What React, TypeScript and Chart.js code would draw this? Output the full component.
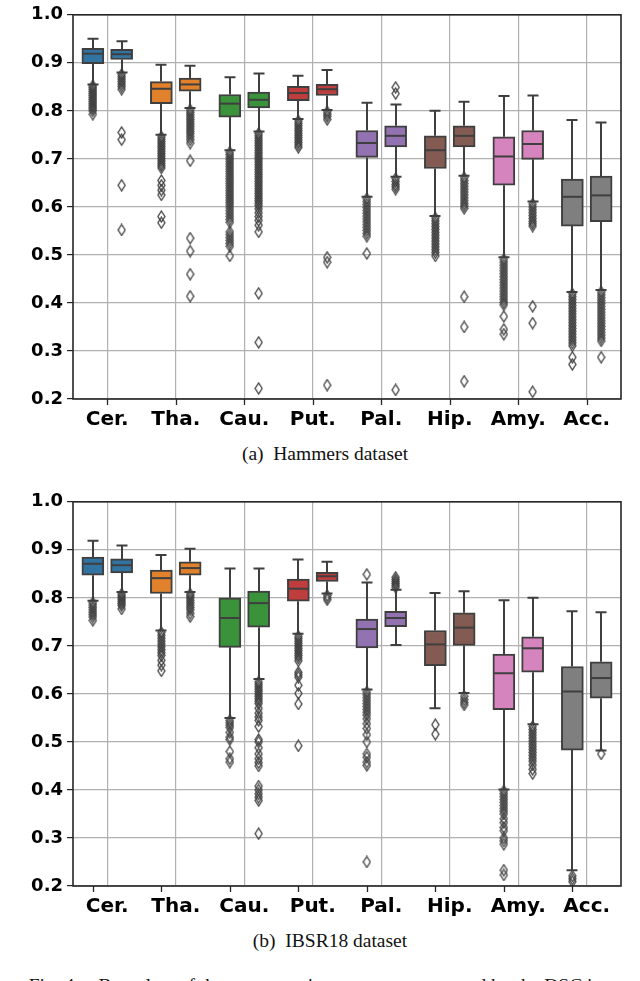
import React, { useEffect, useRef } from 'react';
import { Chart, registerables } from 'chart.js';

Chart.register(...registerables);

// ---------- data ----------
const categories = ['Cer.', 'Tha.', 'Cau.', 'Put.', 'Pal.', 'Hip.', 'Amy.', 'Acc.'];
const yTickValues = [0.2, 0.3, 0.4, 0.5, 0.6, 0.7, 0.8, 0.9, 1.0];

// Hammers dataset, left box of each pair
const hamA_low = [0.855, 0.750, 0.718, 0.783, 0.621, 0.581, 0.495, 0.423];
const hamA_q1 = [0.898, 0.815, 0.787, 0.821, 0.703, 0.680, 0.645, 0.560];
const hamA_med = [0.919, 0.846, 0.815, 0.837, 0.733, 0.718, 0.705, 0.621];
const hamA_q3 = [0.930, 0.861, 0.834, 0.851, 0.759, 0.748, 0.746, 0.658];
const hamA_high = [0.950, 0.896, 0.870, 0.873, 0.817, 0.800, 0.831, 0.781];
const hamA_out = [
  [0.852, 0.848, 0.844, 0.840, 0.836, 0.832, 0.828, 0.824, 0.820, 0.816, 0.812, 0.808, 0.804, 0.800, 0.793],
  [0.746, 0.741, 0.736, 0.731, 0.726, 0.721, 0.716, 0.711, 0.706, 0.701, 0.696, 0.691, 0.686, 0.681, 0.655, 0.645, 0.635, 0.625, 0.580, 0.567],
  [0.714, 0.709, 0.704, 0.699, 0.694, 0.689, 0.684, 0.679, 0.674, 0.669, 0.664, 0.659, 0.654, 0.649, 0.644, 0.639, 0.634, 0.629, 0.624, 0.619, 0.614, 0.609, 0.604, 0.598, 0.592, 0.586, 0.580, 0.574, 0.568, 0.548, 0.542, 0.536, 0.530, 0.524, 0.518, 0.498],
  [0.779, 0.774, 0.769, 0.764, 0.759, 0.754, 0.749, 0.744, 0.739, 0.734, 0.729, 0.724],
  [0.617, 0.611, 0.605, 0.599, 0.593, 0.587, 0.581, 0.575, 0.569, 0.563, 0.557, 0.551, 0.545, 0.539, 0.503],
  [0.577, 0.571, 0.565, 0.559, 0.553, 0.547, 0.541, 0.535, 0.529, 0.523, 0.517, 0.511, 0.505, 0.498],
  [0.491, 0.485, 0.479, 0.473, 0.467, 0.461, 0.455, 0.449, 0.443, 0.437, 0.431, 0.425, 0.419, 0.413, 0.407, 0.401, 0.396, 0.372, 0.345, 0.335],
  [0.419, 0.413, 0.407, 0.401, 0.395, 0.389, 0.383, 0.377, 0.371, 0.365, 0.359, 0.353, 0.347, 0.341, 0.335, 0.329, 0.323, 0.317, 0.311, 0.287, 0.272],
];

// Hammers dataset, right box of each pair
const hamB_low = [0.880, 0.806, 0.757, 0.802, 0.663, 0.665, 0.611, 0.427];
const hamB_q1 = [0.907, 0.841, 0.806, 0.832, 0.725, 0.725, 0.699, 0.569];
const hamB_med = [0.918, 0.855, 0.823, 0.845, 0.748, 0.748, 0.731, 0.624];
const hamB_q3 = [0.928, 0.868, 0.839, 0.855, 0.769, 0.769, 0.759, 0.664];
const hamB_high = [0.945, 0.894, 0.878, 0.885, 0.813, 0.819, 0.832, 0.776];
const hamB_out = [
  [0.876, 0.871, 0.866, 0.861, 0.856, 0.851, 0.845, 0.755, 0.740, 0.645, 0.552],
  [0.802, 0.797, 0.792, 0.787, 0.782, 0.777, 0.772, 0.767, 0.762, 0.757, 0.752, 0.746, 0.740, 0.733, 0.696, 0.535, 0.508, 0.460, 0.414],
  [0.753, 0.748, 0.743, 0.738, 0.733, 0.728, 0.723, 0.718, 0.713, 0.708, 0.703, 0.698, 0.693, 0.688, 0.683, 0.678, 0.673, 0.668, 0.663, 0.658, 0.653, 0.648, 0.643, 0.638, 0.633, 0.628, 0.623, 0.618, 0.613, 0.608, 0.603, 0.596, 0.588, 0.580, 0.572, 0.562, 0.548, 0.420, 0.318, 0.222],
  [0.798, 0.793, 0.788, 0.782, 0.495, 0.485, 0.229],
  [0.849, 0.836, 0.659, 0.653, 0.647, 0.642, 0.637, 0.219],
  [0.661, 0.655, 0.649, 0.643, 0.637, 0.631, 0.625, 0.619, 0.613, 0.607, 0.602, 0.597, 0.413, 0.350, 0.237],
  [0.606, 0.600, 0.594, 0.588, 0.582, 0.576, 0.570, 0.565, 0.560, 0.393, 0.358, 0.215],
  [0.423, 0.417, 0.411, 0.405, 0.399, 0.393, 0.387, 0.381, 0.375, 0.369, 0.363, 0.357, 0.351, 0.345, 0.339, 0.333, 0.327, 0.321, 0.287],
];

// IBSR18 dataset, left box of each pair
const ibsA_low = [0.794, 0.732, 0.550, 0.725, 0.609, 0.570, 0.401, 0.233];
const ibsA_q1 = [0.847, 0.809, 0.697, 0.793, 0.696, 0.659, 0.567, 0.483];
const ibsA_med = [0.871, 0.841, 0.758, 0.819, 0.735, 0.703, 0.643, 0.605];
const ibsA_q3 = [0.885, 0.858, 0.800, 0.839, 0.756, 0.732, 0.683, 0.657];
const ibsA_high = [0.919, 0.889, 0.861, 0.880, 0.832, 0.810, 0.795, 0.772];
const ibsA_out = [
  [0.790, 0.785, 0.780, 0.775, 0.770, 0.765, 0.760, 0.753],
  [0.728, 0.722, 0.716, 0.710, 0.704, 0.698, 0.692, 0.686, 0.680, 0.670, 0.660, 0.648],
  [0.545, 0.540, 0.535, 0.530, 0.520, 0.510, 0.505, 0.480, 0.465, 0.458],
  [0.720, 0.715, 0.710, 0.705, 0.700, 0.695, 0.690, 0.685, 0.680, 0.675, 0.669, 0.645, 0.640, 0.635, 0.618, 0.601, 0.579, 0.492],
  [0.849, 0.604, 0.598, 0.592, 0.586, 0.580, 0.574, 0.568, 0.562, 0.556, 0.548, 0.538, 0.528, 0.515, 0.500, 0.475, 0.468, 0.458, 0.451, 0.250],
  [0.536, 0.516],
  [0.398, 0.392, 0.386, 0.380, 0.374, 0.368, 0.362, 0.356, 0.350, 0.340, 0.332, 0.322, 0.315, 0.300, 0.294, 0.287, 0.233, 0.223],
  [0.221, 0.215, 0.209],
];

// IBSR18 dataset, right box of each pair
const ibsB_low = [0.812, 0.812, 0.631, 0.809, 0.702, 0.602, 0.537, 0.482];
const ibsB_q1 = [0.852, 0.847, 0.739, 0.834, 0.740, 0.701, 0.645, 0.591];
const ibsB_med = [0.868, 0.862, 0.789, 0.845, 0.758, 0.738, 0.695, 0.633];
const ibsB_q3 = [0.881, 0.875, 0.814, 0.853, 0.772, 0.769, 0.719, 0.667];
const ibsB_high = [0.909, 0.902, 0.861, 0.875, 0.817, 0.814, 0.800, 0.770];
const ibsB_out = [
  [0.808, 0.804, 0.800, 0.796, 0.792, 0.788, 0.784, 0.777],
  [0.808, 0.804, 0.800, 0.795, 0.790, 0.785, 0.780, 0.775, 0.768, 0.761],
  [0.625, 0.620, 0.615, 0.610, 0.605, 0.600, 0.595, 0.590, 0.585, 0.580, 0.570, 0.560, 0.552, 0.545, 0.532, 0.505, 0.500, 0.488, 0.475, 0.465, 0.457, 0.450, 0.408, 0.400, 0.392, 0.385, 0.378, 0.309],
  [0.805, 0.800, 0.796],
  [0.822, 0.826, 0.830, 0.834, 0.838, 0.843],
  [0.595, 0.588, 0.582, 0.577],
  [0.532, 0.526, 0.520, 0.514, 0.508, 0.502, 0.496, 0.490, 0.484, 0.478, 0.472, 0.466, 0.460, 0.452, 0.443, 0.434],
  [0.475],
];

// ---------- styles ----------
const boxColors = ['#3274a1', '#e1812c', '#3a923a', '#c03d3e', '#9372b2', '#845b53', '#d684bd', '#7f7f7f'];
const edge = '#3f3f3f';
const gridColor = '#b0b0b0';
const axisColor = '#262626';
const GROUP_OFFSET = 0.21;
const BOX_PX = 22;

type BoxSet = { low: number[]; q1: number[]; med: number[]; q3: number[]; high: number[]; out: number[][] };

const hammers: BoxSet[] = [
  { low: hamA_low, q1: hamA_q1, med: hamA_med, q3: hamA_q3, high: hamA_high, out: hamA_out },
  { low: hamB_low, q1: hamB_q1, med: hamB_med, q3: hamB_q3, high: hamB_high, out: hamB_out },
];
const ibsr: BoxSet[] = [
  { low: ibsA_low, q1: ibsA_q1, med: ibsA_med, q3: ibsA_q3, high: ibsA_high, out: ibsA_out },
  { low: ibsB_low, q1: ibsB_q1, med: ibsB_med, q3: ibsB_q3, high: ibsB_high, out: ibsB_out },
];

function makeDiamond(): HTMLCanvasElement {
  const c = document.createElement('canvas');
  c.width = 9;
  c.height = 13;
  const ctx = c.getContext('2d')!;
  ctx.beginPath();
  ctx.moveTo(4.5, 1);
  ctx.lineTo(8, 6.5);
  ctx.lineTo(4.5, 12);
  ctx.lineTo(1, 6.5);
  ctx.closePath();
  ctx.strokeStyle = edge;
  ctx.lineWidth = 1.3;
  ctx.stroke();
  return c;
}

const sideOffset = (d: number) => (d === 0 ? -GROUP_OFFSET : GROUP_OFFSET);

function BoxChart({ sets, tickAtBox, top }: { sets: BoxSet[]; tickAtBox: boolean; top: number }) {
  const ref = useRef<HTMLCanvasElement | null>(null);
  useEffect(() => {
    const canvas = ref.current!;
    const diamond = makeDiamond();

    const boxPlugin = {
      id: 'boxParts',
      beforeDatasetsDraw(chart: any) {
        const ctx = chart.ctx;
        const ys = chart.scales.y;
        const xs = chart.scales.x;
        ctx.save();
        ctx.strokeStyle = edge;
        ctx.lineWidth = 2;
        sets.forEach((s, d) => {
          s.q1.forEach((_, i) => {
            const x = Math.round(xs.getPixelForValue(i + sideOffset(d)));
            const w = BOX_PX;
            const yl = ys.getPixelForValue(s.low[i]);
            const yh = ys.getPixelForValue(s.high[i]);
            const y1 = ys.getPixelForValue(s.q1[i]);
            const y3 = ys.getPixelForValue(s.q3[i]);
            ctx.beginPath();
            ctx.moveTo(x, y1);
            ctx.lineTo(x, yl);
            ctx.moveTo(x, y3);
            ctx.lineTo(x, yh);
            ctx.moveTo(x - w / 4, yl);
            ctx.lineTo(x + w / 4, yl);
            ctx.moveTo(x - w / 4, yh);
            ctx.lineTo(x + w / 4, yh);
            ctx.stroke();
          });
        });
        ctx.restore();
      },
      afterDatasetsDraw(chart: any) {
        const ctx = chart.ctx;
        const ys = chart.scales.y;
        const xs = chart.scales.x;
        const a = chart.chartArea;
        ctx.save();
        ctx.strokeStyle = edge;
        ctx.lineWidth = 2;
        sets.forEach((s, d) => {
          const meta = chart.getDatasetMeta(d);
          meta.data.forEach((el: any, i: number) => {
            const x = el.x;
            const w = el.width;
            const ym = ys.getPixelForValue(s.med[i]);
            ctx.beginPath();
            ctx.moveTo(x - w / 2 + 1, ym);
            ctx.lineTo(x + w / 2 - 1, ym);
            ctx.stroke();
          });
        });
        // frame
        ctx.strokeStyle = axisColor;
        ctx.lineWidth = 1.6;
        ctx.strokeRect(a.left, a.top, a.right - a.left, a.bottom - a.top);
        // x tick marks
        ctx.lineWidth = 1.3;
        ctx.beginPath();
        categories.forEach((_, i) => {
          const px = xs.getPixelForValue(tickAtBox ? i - GROUP_OFFSET : i);
          ctx.moveTo(Math.round(px) + 0.5, a.bottom);
          ctx.lineTo(Math.round(px) + 0.5, a.bottom + 6);
        });
        ctx.stroke();
        ctx.restore();
      },
    };

    const boxDatasets = sets.map((s, d) => ({
      type: 'bar' as const,
      data: s.q1.map((v, i) => ({ x: i + sideOffset(d), y: [v, s.q3[i]] })),
      backgroundColor: boxColors,
      borderColor: edge,
      borderWidth: 2,
      borderSkipped: false as const,
      grouped: false,
      barThickness: BOX_PX,
      order: 2,
    }));
    const outlierDatasets = sets.map((s, d) => ({
      type: 'scatter' as const,
      data: s.out.flatMap((vals, i) => vals.map((v) => ({ x: i + sideOffset(d), y: v }))),
      pointStyle: diamond,
      pointRadius: 4,
      showLine: false,
      order: 1,
    }));

    const chart = new Chart(canvas, {
      type: 'bar',
      data: {
        datasets: [...boxDatasets, ...outlierDatasets] as any,
      },
      plugins: [boxPlugin],
      options: {
        animation: false,
        responsive: false,
        devicePixelRatio: 1,
        layout: { padding: { top: 8, right: 19, left: 0, bottom: 0 } },
        plugins: { legend: { display: false }, tooltip: { enabled: false } },
        scales: {
          x: {
            type: 'linear',
            min: -0.5,
            max: 7.5,
            offset: false,
            afterBuildTicks: (s: any) => {
              s.ticks = categories.map((_, i) => ({ value: i }));
            },
            grid: { offset: false, color: gridColor, lineWidth: 1.2, drawTicks: false },
            border: { display: false },
            ticks: {
              color: '#000',
              font: { family: 'DejaVu Sans', weight: 'bold', size: 20 },
              padding: 9,
              maxRotation: 0,
              autoSkip: false,
              callback: (v: any) => categories[Math.round(Number(v))],
            },
            afterFit: (s: any) => {
              s.height = 41;
            },
          },
          y: {
            min: 0.2,
            max: 1.0,
            afterBuildTicks: (s: any) => {
              s.ticks = yTickValues.map((v) => ({ value: v }));
            },
            ticks: {
              color: '#000',
              font: { family: 'DejaVu Sans', weight: 'bold', size: 18 },
              padding: 4,
              callback: (v: any) => Number(v).toFixed(1),
            },
            grid: { color: gridColor, lineWidth: 1.2, tickLength: 6, tickColor: axisColor },
            border: { display: false },
            afterFit: (s: any) => {
              s.width = 73;
            },
          },
        } as any,
      },
    });
    return () => chart.destroy();
  }, [sets, tickAtBox]);
  return (
    <canvas
      ref={ref}
      width={640}
      height={440}
      style={{ position: 'absolute', left: 0, top, width: 640, height: 440, display: 'block' }}
    />
  );
}

const captionStyle: React.CSSProperties = {
  position: 'absolute',
  width: 640,
  textAlign: 'center',
  fontFamily: '"Liberation Serif", "Times New Roman", serif',
  fontSize: 19.5,
  lineHeight: '22px',
  color: '#111',
  whiteSpace: 'pre',
};

export default function App() {
  return (
    <div style={{ position: 'absolute', left: 0, top: 0, width: 640, height: 981, overflow: 'hidden', background: '#fff' }}>
      <BoxChart sets={hammers} tickAtBox={false} top={0} />
      <div style={{ ...captionStyle, top: 443, left: 5 }}>{'(a)  Hammers dataset'}</div>
      <BoxChart sets={ibsr} tickAtBox={true} top={487} />
      <div style={{ ...captionStyle, top: 930, left: 10 }}>{'(b)  IBSR18 dataset'}</div>
      <div style={{ ...captionStyle, top: 975, left: 0, textAlign: 'left', width: 700 }}>
        {'e:   Fig. 4.    Box plots of the segmentation accuracy measured by the DSC in'}
      </div>
    </div>
  );
}
